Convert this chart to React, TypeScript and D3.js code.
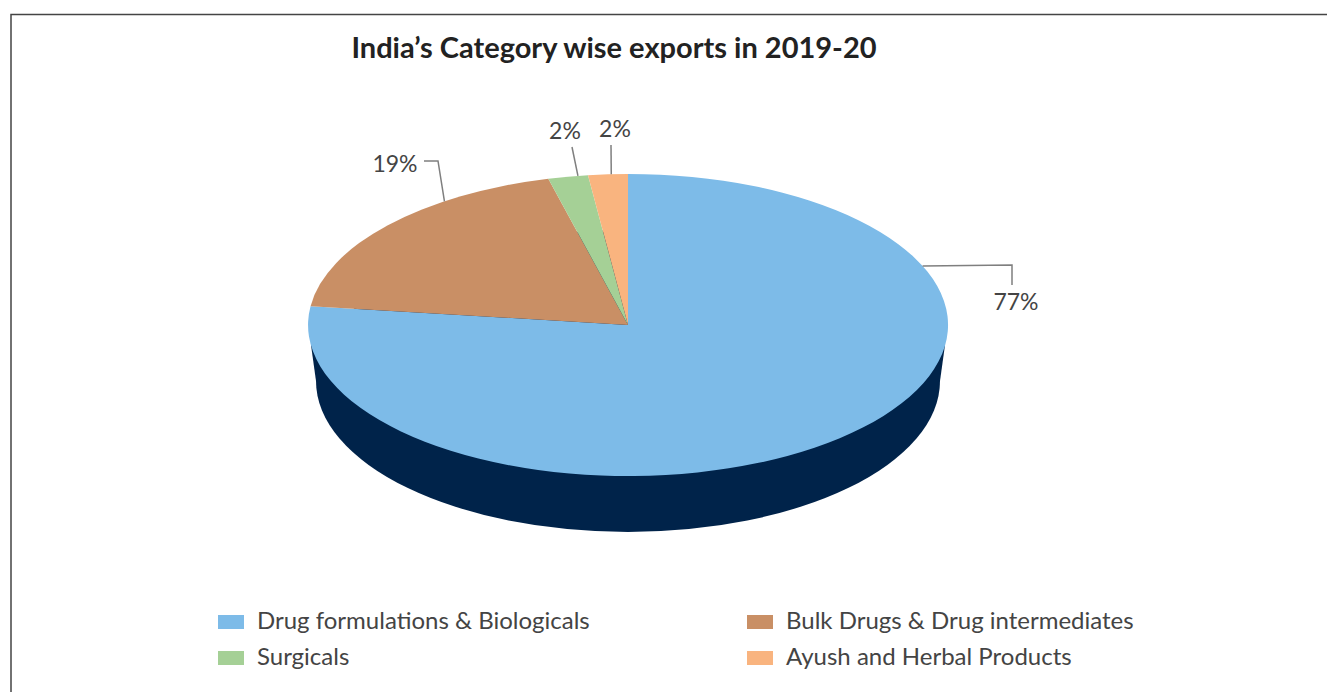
import React from "react";
import * as d3 from "d3";

const categories = [
  "Drug formulations & Biologicals",
  "Bulk Drugs & Drug intermediates",
  "Surgicals",
  "Ayush and Herbal Products",
];
const shares = [77, 19, 2, 2];
const sliceColors = ["#7DBBE8", "#C98F65", "#A5D096", "#F9B47F"];
const wallColor = "#00234A";
const FONT = "Lato, 'Open Sans', sans-serif";

// Screen geometry of the tilted disc
const W = 1327, H = 692;
const cx = 628, cy = 325, rx = 320, ry = 151, wallDepth = 56;

// Projects a clockwise-from-top angle on the unit disc to the page
const rimX = d3.scaleLinear().domain([-1, 1]).range([cx - rx, cx + rx]);
const rimY = d3.scaleLinear().domain([-1, 1]).range([cy - ry, cy + ry]);
const rim = (deg: number): [number, number] => {
  const a = (deg * Math.PI) / 180;
  return [rimX(Math.sin(a)), rimY(-Math.cos(a))];
};

const pieAngles = d3.pie<number>().sort(null).value((d) => d)(shares);
const sliceArc = d3.arc<d3.PieArcDatum<number>>().innerRadius(0).outerRadius(1);

// Leader lines: where each leaves the rim, then its bends up to the label
const labelLayout = [
  { text: "77%", x: 1016, y: 304, rimDeg: 67, bend: [[1012, 265], [1012, 285]] },
  { text: "19%", x: 395, y: 166, rimDeg: -35, bend: [[438, 161], [424, 161]] },
  { text: "2%", x: 565, y: 133, rimDeg: -9, bend: [[572, 147]] },
  { text: "2%", x: 615, y: 131, rimDeg: -3, bend: [[611, 145]] },
];

const legendCols = [218, 747];
const legendRows = [622, 658];

export default function App() {
  const line = d3.line();
  const wallEdge = line([
    [cx - rx + 3, cy + 20],
    [cx - rx + 8, cy + wallDepth],
    [cx + rx - 8, cy + wallDepth],
    [cx + rx - 3, cy + 20],
  ])!;
  return (
    <svg
      width={W}
      height={H}
      viewBox={`0 0 ${W} ${H}`}
      style={{ position: "absolute", left: 0, top: 0, background: "#fff" }}
    >
      <path d={`M11 ${H}V14.5H${W}`} fill="none" stroke="#444" strokeWidth={1.5} />
      <text x={614} y={58} textAnchor="middle" fontFamily={FONT} fontWeight={700} fontSize={29} fill="#222">
        India’s Category wise exports in 2019-20
      </text>

      <ellipse cx={cx} cy={cy + wallDepth} rx={rx - 8} ry={ry} fill={wallColor} />
      <path d={wallEdge} fill={wallColor} />
      <g transform={`translate(${cx},${cy}) scale(${rx},${ry})`}>
        {pieAngles.map((d, i) => (
          <path key={categories[i]} d={sliceArc(d)!} fill={sliceColors[i]} />
        ))}
      </g>

      {labelLayout.map((l, i) => {
        const pts = [rim(l.rimDeg), ...l.bend] as [number, number][];
        return (
          <g key={l.text + i}>
            <path d={line(pts)!} fill="none" stroke="#7F7F7F" strokeWidth={1.5} />
            <text x={l.x} y={l.y} textAnchor="middle" dominantBaseline="middle" fontFamily={FONT} fontSize={23} fill="#444">
              {l.text}
            </text>
          </g>
        );
      })}

      {categories.map((c, i) => {
        const x = legendCols[i % 2];
        const y = legendRows[Math.floor(i / 2)];
        return (
          <g key={c}>
            <rect x={x} y={y - 7} width={26} height={14} fill={sliceColors[i]} />
            <text x={x + 39} y={y + 1} dominantBaseline="middle" fontFamily={FONT} fontSize={24} fill="#444">
              {c}
            </text>
          </g>
        );
      })}
    </svg>
  );
}
